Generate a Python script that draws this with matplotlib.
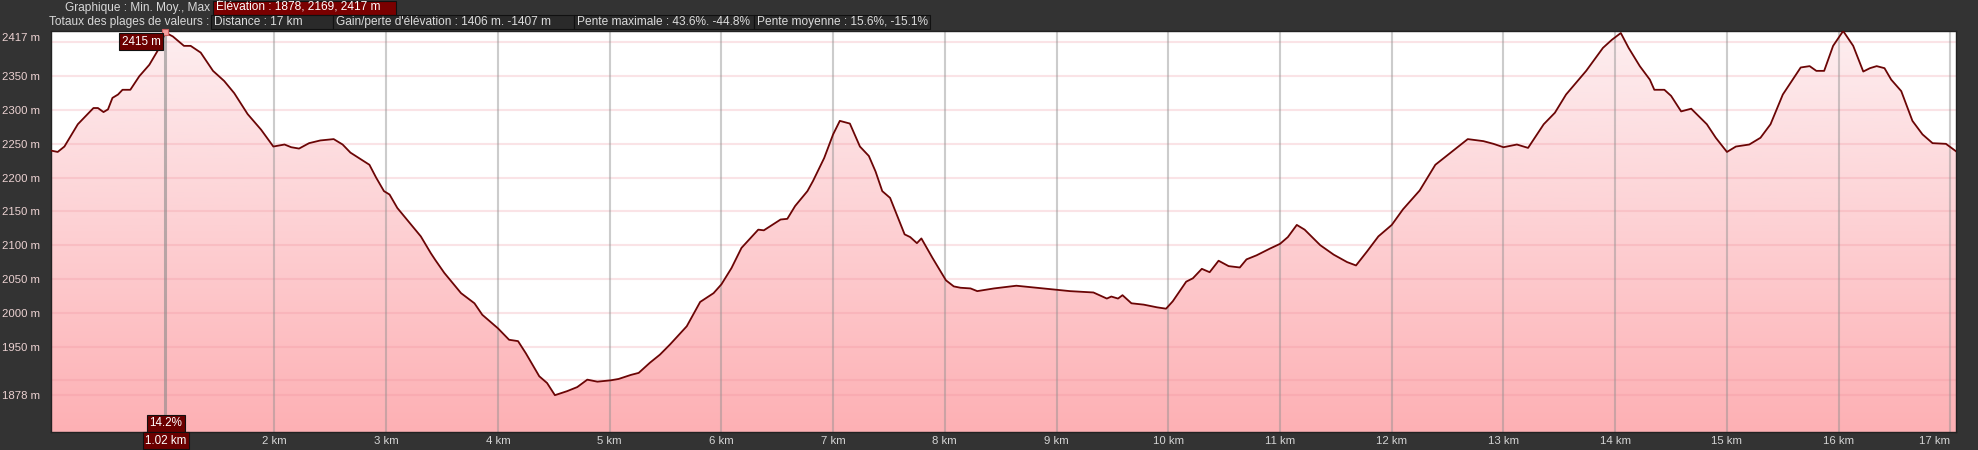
import numpy as np
import matplotlib
matplotlib.use("Agg")
import matplotlib.pyplot as plt
from matplotlib.colors import LinearSegmentedColormap
from matplotlib.patches import Rectangle, Polygon

# ---------------- data ----------------
distance_km = [0.00, 0.06, 0.12, 0.24, 0.38, 0.42, 0.47, 0.51, 0.55, 0.60, 0.64, 0.71, 0.79, 0.88,
               0.98, 1.02, 1.09, 1.19, 1.25, 1.34, 1.45, 1.55, 1.64, 1.76, 1.88, 1.99, 2.09, 2.15,
               2.22, 2.31, 2.41, 2.53, 2.61, 2.68, 2.85, 2.91, 2.98, 3.03, 3.10, 3.21, 3.31, 3.40,
               3.44, 3.52, 3.67, 3.79, 3.86, 4.00, 4.10, 4.18, 4.25, 4.37, 4.44, 4.51, 4.62, 4.71,
               4.80, 4.89, 5.01, 5.08, 5.19, 5.26, 5.36, 5.45, 5.54, 5.69, 5.81, 5.93, 6.00, 6.09,
               6.18, 6.33, 6.38, 6.53, 6.59, 6.66, 6.77, 6.82, 6.92, 7.00, 7.06, 7.15, 7.24, 7.32,
               7.38, 7.44, 7.51, 7.64, 7.69, 7.75, 7.79, 7.89, 8.01, 8.08, 8.14, 8.23, 8.29, 8.44,
               8.64, 8.88, 9.12, 9.33, 9.45, 9.49, 9.55, 9.59, 9.67, 9.78, 9.90, 9.98, 10.04, 10.16,
               10.22, 10.30, 10.37, 10.45, 10.54, 10.64, 10.70, 10.79, 10.91, 11.00, 11.07, 11.15,
               11.22, 11.36, 11.48, 11.60, 11.68, 11.78, 11.88, 12.00, 12.10, 12.25, 12.39, 12.55,
               12.68, 12.82, 12.91, 13.00, 13.12, 13.22, 13.36, 13.46, 13.56, 13.74, 13.89, 13.97,
               14.05, 14.12, 14.22, 14.31, 14.35, 14.44, 14.50, 14.59, 14.68, 14.82, 14.90, 15.00,
               15.08, 15.20, 15.30, 15.39, 15.50, 15.66, 15.74, 15.80, 15.87, 15.95, 16.04, 16.13,
               16.22, 16.28, 16.34, 16.41, 16.47, 16.56, 16.66, 16.75, 16.84, 16.96, 17.05]
elevation_m = [2240, 2238, 2246, 2279, 2303, 2303, 2297, 2301, 2318, 2323, 2330, 2330, 2350, 2367,
               2395, 2415, 2409, 2395, 2395, 2385, 2358, 2343, 2325, 2294, 2271, 2246, 2249, 2245,
               2243, 2251, 2255, 2257, 2249, 2237, 2219, 2200, 2180, 2175, 2155, 2133, 2113, 2088,
               2078, 2059, 2029, 2014, 1997, 1977, 1960, 1958, 1940, 1906, 1896, 1878, 1884, 1890,
               1901, 1898, 1900, 1902, 1908, 1911, 1926, 1938, 1953, 1980, 2016, 2029, 2042, 2066,
               2096, 2123, 2122, 2138, 2139, 2158, 2180, 2195, 2229, 2264, 2284, 2280, 2246, 2232,
               2209, 2180, 2170, 2116, 2112, 2103, 2110, 2081, 2048, 2039, 2037, 2036, 2032, 2036,
               2040, 2036, 2032, 2030, 2021, 2024, 2021, 2026, 2014, 2012, 2008, 2006, 2017, 2046,
               2051, 2065, 2060, 2077, 2069, 2067, 2079, 2085, 2095, 2102, 2112, 2130,
               2123, 2100, 2086, 2075, 2070, 2091, 2113, 2130, 2153, 2181, 2219, 2240,
               2257, 2254, 2250, 2245, 2249, 2244, 2279, 2296, 2323, 2358, 2392, 2404,
               2414, 2392, 2365, 2345, 2330, 2330, 2321, 2298, 2302, 2279, 2259, 2238,
               2246, 2249, 2259, 2279, 2323, 2363, 2365, 2358, 2358, 2395, 2417, 2395,
               2357, 2362, 2365, 2362, 2345, 2328, 2284, 2264, 2251, 2250, 2239]

ytick_values = [2417, 2350, 2300, 2250, 2200, 2150, 2100, 2050, 2000, 1950, 1878]
ytick_labels = ["2417 m", "2350 m", "2300 m", "2250 m", "2200 m", "2150 m", "2100 m",
                "2050 m", "2000 m", "1950 m", "1878 m"]
ygrid_values = [2400, 2350, 2300, 2250, 2200, 2150, 2100, 2050, 2000, 1950, 1900, 1878]
xtick_values = [2, 3, 4, 5, 6, 7, 8, 9, 10, 11, 12, 13, 14, 15, 16, 17]
xtick_labels = ["2 km", "3 km", "4 km", "5 km", "6 km", "7 km", "8 km", "9 km", "10 km",
                "11 km", "12 km", "13 km", "14 km", "15 km", "16 km", "17 km"]

cursor_km = 1.02
cursor_elev = 2415
cursor_elev_label = "2415 m"
cursor_km_label = "1.02 km"
cursor_slope_label = "14.2%"

header_row1_title = "Graphique : Min. Moy., Max"
header_row1_box = "Élévation : 1878, 2169, 2417 m"
header_row2_title = "Totaux des plages de valeurs :"
header_row2_boxes = ["Distance : 17 km",
                     "Gain/perte d'élévation : 1406 m. -1407 m",
                     "Pente maximale : 43.6%. -44.8%",
                     "Pente moyenne : 15.6%, -15.1%"]

# ---------------- layout ----------------
W, H = 1978, 450
BG = "#333333"
FONT = "Liberation Sans"
plt.rcParams["font.family"] = [FONT, "DejaVu Sans"]
HFS = 8.6   # header font size
AFS = 8.2   # axis font size
BFS = 8.4   # box label font size

fig = plt.figure(figsize=(W / 100, H / 100), dpi=100, facecolor=BG)
px_l, px_r, px_t, px_b = 51, 1956, 31, 432
ax = fig.add_axes([px_l / W, (H - px_b) / H, (px_r - px_l) / W, (px_b - px_t) / H])
xmin, xmax = 0.0, 17.05
ymin, ymax = 1823.5, 2417.0
ax.set_facecolor("white")

# gradient fill under the profile
grad = np.linspace(0, 1, 256).reshape(-1, 1)
cmap = LinearSegmentedColormap.from_list("g", ["#feb0b4", "#fdd0d3", "#fdeef0"])
im = ax.imshow(grad, extent=[xmin, xmax, ymin, ymax], origin="lower", aspect="auto",
               cmap=cmap, zorder=1, interpolation="bilinear")
verts = [(distance_km[0], ymin)] + list(zip(distance_km, elevation_m)) + [(distance_km[-1], ymin)]
clip = Polygon(verts, closed=True, facecolor="none", edgecolor="none", transform=ax.transData)
ax.add_patch(clip)
im.set_clip_path(clip)

# grid
for gy in ygrid_values:
    ax.axhline(gy, color=(0.93, 0.55, 0.6), alpha=0.24, lw=1.5, zorder=2)
for gx in xtick_values:
    ax.axvline(gx, color="#8f8f8f", alpha=0.45, lw=1.5, zorder=2)

# profile line
ax.plot(distance_km, elevation_m, color="#6b0505", lw=1.3, zorder=4, solid_joinstyle="round")

# cursor
ax.axvline(cursor_km, color="#8a8a8a", alpha=0.6, lw=2.2, zorder=3)
ax.plot([cursor_km], [cursor_elev], marker="s", ms=4, mfc="#f4a0a0", mec="#d06060",
        mew=0.8, zorder=5, clip_on=False)

ax.set_xlim(xmin, xmax)
ax.set_ylim(ymin, ymax)

# ticks
ax.set_xticks(xtick_values)
ax.set_xticklabels(xtick_labels)
ax.set_yticks(ytick_values[1:])
ax.set_yticklabels(ytick_labels[1:])
ax.tick_params(axis="both", length=0)
ax.tick_params(axis="x", pad=3.2, labelsize=AFS, labelcolor="#d5d5d5")
ax.tick_params(axis="y", pad=8, labelsize=AFS, labelcolor="#ecd2d2")
xl = ax.get_xticklabels()
xl[-1].set_horizontalalignment("right")
# top label sits slightly below the top edge
ax.annotate(ytick_labels[0], xy=(0, ytick_values[0]), xycoords=("axes fraction", "data"),
            xytext=(-8, -5.2), textcoords="offset points", ha="right", va="center",
            fontsize=AFS, color="#ecd2d2", annotation_clip=False)

for s in ax.spines.values():
    s.set_color("#222222")
    s.set_linewidth(1)

box_style = dict(boxstyle="square,pad=0.2", fc="#6b0000", ec="#111111", lw=0.8)
ax.annotate(cursor_elev_label, xy=(cursor_km, cursor_elev), xytext=(-3.2, -6.8),
            textcoords="offset points", ha="right", va="center", fontsize=BFS,
            color="white", bbox=box_style, zorder=6, annotation_clip=False)
ax.annotate(cursor_slope_label, xy=(cursor_km, 0), xycoords=("data", "axes fraction"),
            xytext=(0.8, 6.3), textcoords="offset points", ha="center", va="center",
            fontsize=BFS, color="white", bbox=box_style, zorder=6, annotation_clip=False)
ax.annotate(cursor_km_label, xy=(cursor_km, 0), xycoords=("data", "axes fraction"),
            xytext=(0.6, -6.3), textcoords="offset points", ha="center", va="center",
            fontsize=BFS, color="white", bbox=box_style, zorder=6, annotation_clip=False)

# header overlay in pixel coordinates
hdr = fig.add_axes([0, 0, 1, 1])
hdr.set_xlim(0, W)
hdr.set_ylim(H, 0)
hdr.axis("off")
hdr.patch.set_alpha(0)

hdr.text(210, 7.5, header_row1_title, ha="right", va="center", fontsize=HFS, color="#d8d8d8")
hdr.add_patch(Rectangle((213, 0.5), 183, 14, fc="#7a0000", ec="#111111", lw=0.8))
hdr.text(216, 7.5, header_row1_box, ha="left", va="center", fontsize=HFS, color="white")

hdr.text(209, 22, header_row2_title, ha="right", va="center", fontsize=HFS, color="#d8d8d8")
edges = [211, 333, 574, 754, 930]
for i, label in enumerate(header_row2_boxes):
    x0, x1 = edges[i], edges[i + 1]
    hdr.add_patch(Rectangle((x0, 15), x1 - x0, 14, fc="#2a2a2a", ec="#111111", lw=0.8))
    hdr.text(x0 + 3, 22, label, ha="left", va="center", fontsize=HFS, color="#dcdcdc")

fig.savefig("out.png", dpi=100, facecolor=BG)
